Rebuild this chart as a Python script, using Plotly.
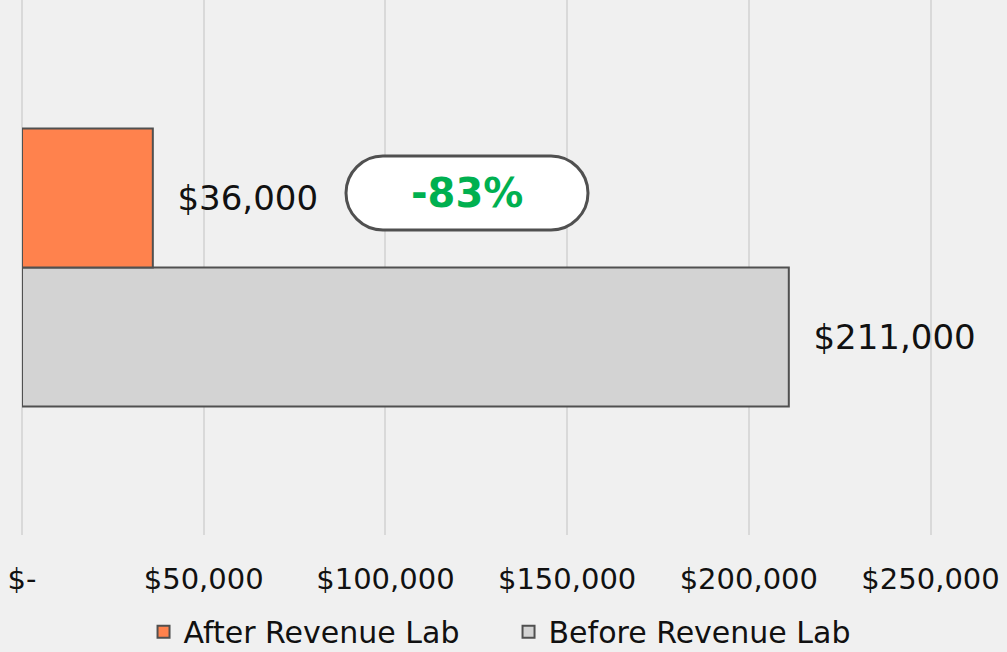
import plotly.graph_objects as go

category = ["Revenue"]
series_names = ["Before Revenue Lab", "After Revenue Lab"]
before_values = [211000]
after_values = [36000]
change_label = "-83%"
tick_values = [0, 50000, 100000, 150000, 200000, 250000]
tick_labels = ["$-", "$50,000", "$100,000", "$150,000", "$200,000", "$250,000"]

FONT = "DejaVu Sans"
W, H = 1007, 652
ML, MR, MT, MB = 22, 75, 0, 117
PW, PH = W - ML - MR, H - MT - MB

fig = go.Figure()
fig.add_trace(go.Bar(
    y=category, x=before_values, name=series_names[0], orientation="h",
    marker=dict(color="#D3D3D3", line=dict(color="#505050", width=2)),
    text=before_values, texttemplate="  %{x:$,.0f}", textposition="outside",
    textfont=dict(size=34, color="#111111", family=FONT), cliponaxis=False,
))
fig.add_trace(go.Bar(
    y=category, x=after_values, name=series_names[1], orientation="h",
    marker=dict(color="#FF824D", line=dict(color="#505050", width=2)),
    text=after_values, texttemplate="  %{x:$,.0f}", textposition="outside",
    textfont=dict(size=34, color="#111111", family=FONT), cliponaxis=False,
))

# rounded "pill" box (pixel geometry converted to paper coordinates)
def px2paper(px, py):
    return (px - ML) / PW, 1 - (py - MT) / PH

x0p, x1p, y0p, y1p = 346, 588, 156, 230
r = (y1p - y0p) / 2
k = 0.5523 * r
def P(px, py):
    x, y = px2paper(px, py)
    return f"{x:.5f},{y:.5f}"
cy = (y0p + y1p) / 2
path = (
    f"M {P(x0p + r, y0p)} L {P(x1p - r, y0p)} "
    f"C {P(x1p - r + k, y0p)} {P(x1p, cy - k)} {P(x1p, cy)} "
    f"C {P(x1p, cy + k)} {P(x1p - r + k, y1p)} {P(x1p - r, y1p)} "
    f"L {P(x0p + r, y1p)} "
    f"C {P(x0p + r - k, y1p)} {P(x0p, cy + k)} {P(x0p, cy)} "
    f"C {P(x0p, cy - k)} {P(x0p + r - k, y0p)} {P(x0p + r, y0p)} Z"
)
fig.add_shape(type="path", path=path, xref="paper", yref="paper",
              fillcolor="white", line=dict(color="#505050", width=3), layer="above")
cx, cyp = px2paper((x0p + x1p) / 2, cy)
fig.add_annotation(x=cx, y=cyp, xref="paper", yref="paper", text=f"<b>{change_label}</b>",
                   showarrow=False, font=dict(size=40, color="#00B050", family=FONT),
                   xanchor="center", yanchor="middle")

fig.update_layout(
    width=W, height=H,
    margin=dict(l=ML, r=MR, t=MT, b=MB),
    paper_bgcolor="#F0F0F0", plot_bgcolor="#F0F0F0",
    barmode="group", bargap=0.48, bargroupgap=0,
    font=dict(family=FONT, color="#111111"),
    showlegend=True,
    legend=dict(orientation="h", traceorder="reversed", xref="container", yref="container",
                x=0.505, y=0.031, xanchor="center", yanchor="middle",
                font=dict(size=30, family=FONT, color="#111111"), itemwidth=30,
                entrywidth=320, entrywidthmode="pixels"),
    xaxis=dict(range=[0, 250400], tickvals=tick_values, ticktext=tick_labels,
               showgrid=True, gridcolor="#D9D9D9", gridwidth=2,
               zeroline=True, zerolinecolor="#D9D9D9", zerolinewidth=2,
               tickfont=dict(size=29, family=FONT, color="#111111"),
               ticks="", ticklabelstandoff=24, showline=False),
    yaxis=dict(showticklabels=False, showgrid=False, zeroline=False, range=[-0.5, 0.5]),
)

fig.write_html("out.html", config={"displayModeBar": False},
               post_script="document.body.style.margin='0';document.body.style.background='#F0F0F0';")
